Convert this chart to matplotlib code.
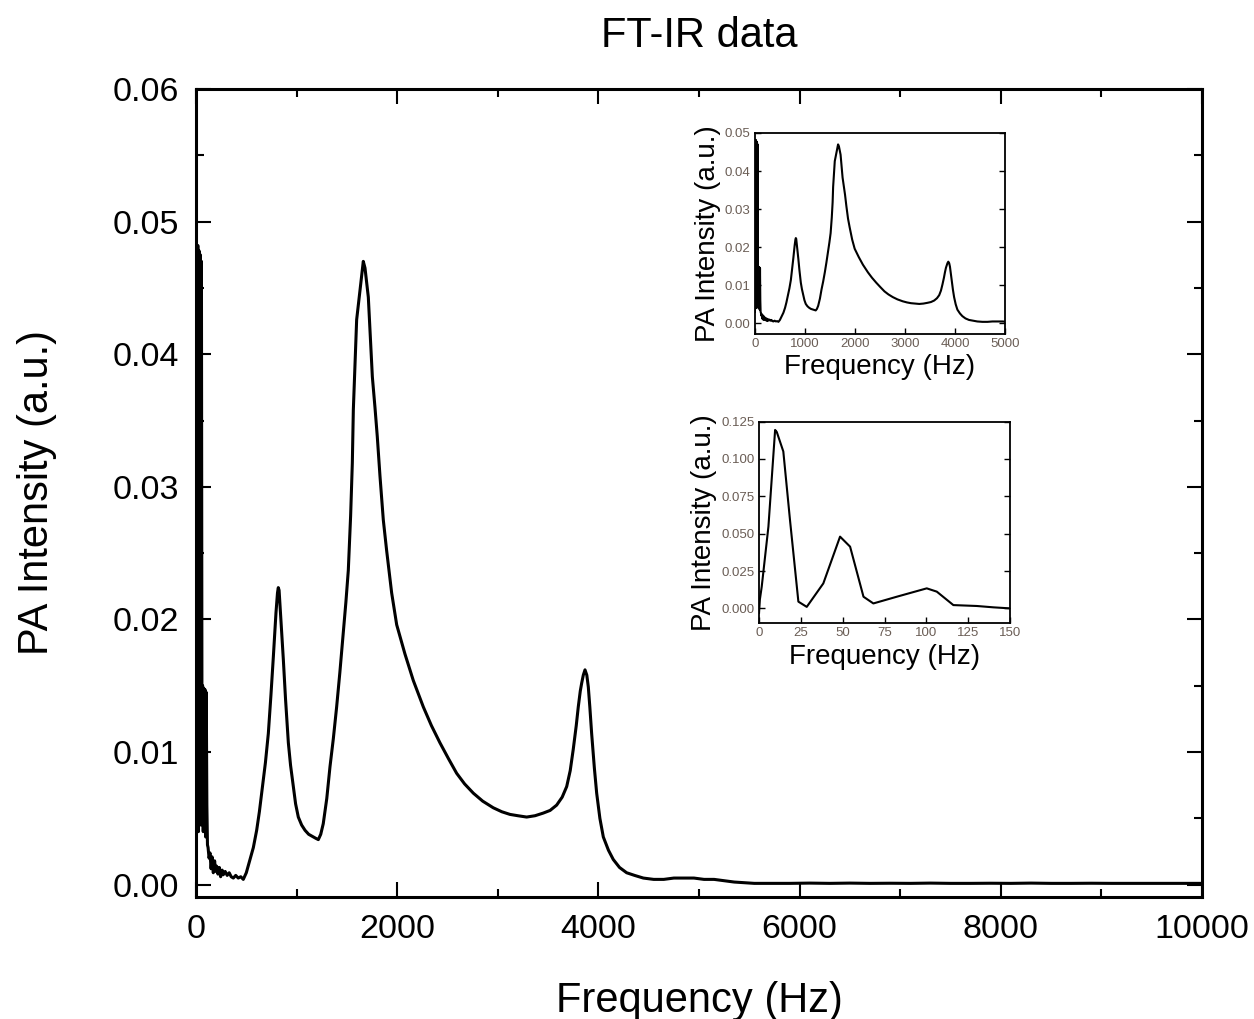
import matplotlib
matplotlib.use("Agg")
import matplotlib.pyplot as plt
from matplotlib.ticker import MultipleLocator, FormatStrFormatter

plt.rcParams['font.family'] = ['Liberation Sans', 'DejaVu Sans']

# main spectrum (Hz, a.u.)
freq = [0, 5, 12, 18, 24, 30, 36, 42, 48, 54,
        60, 66, 72, 78, 84, 90, 96, 102, 108, 114,
        120, 130, 139, 150, 160, 172, 185, 195, 205, 218,
        232, 245, 260, 271, 290, 310, 330, 350, 371, 395,
        420, 445, 470, 500, 537, 570, 603, 630, 653, 690,
        719, 745, 769, 795, 810, 818, 826, 840, 855, 868,
        890, 918, 940, 967, 990, 1017, 1050, 1084, 1120, 1166,
        1190, 1216, 1240, 1265, 1300, 1332, 1365, 1398, 1430, 1464,
        1490, 1514, 1537, 1554, 1564, 1580, 1597, 1630, 1650, 1663,
        1680, 1713, 1730, 1753, 1779, 1802, 1829, 1862, 1895, 1945,
        1995, 2077, 2160, 2260, 2340, 2425, 2510, 2591, 2670, 2757,
        2850, 2955, 3040, 3121, 3200, 3287, 3370, 3452, 3520, 3585,
        3640, 3685, 3720, 3750, 3780, 3800, 3820, 3834, 3850, 3867,
        3885, 3900, 3915, 3933, 3960, 3983, 4015, 4049, 4100, 4148,
        4210, 4281, 4360, 4447, 4550, 4650, 4750, 4850, 4950, 5050,
        5150, 5250, 5350, 5450, 5550, 5700, 5900, 6100, 6300, 6500,
        6700, 6900, 7100, 7300, 7500, 7700, 7900, 8100, 8300, 8500,
        8700, 8900, 9100, 9300, 9500, 9700, 9900, 10000]
inten = [0.0030, 0.0480, 0.0050, 0.0482, 0.0040, 0.0478, 0.0060, 0.0475, 0.0045, 0.0470,
         0.0070, 0.0150, 0.0040, 0.0148, 0.0050, 0.0147, 0.0036, 0.0145, 0.0060, 0.0030,
         0.0028, 0.0020, 0.0024, 0.0012, 0.0021, 0.0009, 0.0018, 0.0010, 0.0014, 0.0008,
         0.0013, 0.0006, 0.0011, 0.00075, 0.0010, 0.0007, 0.0009, 0.0006, 0.0005, 0.0007,
         0.0005, 0.0006, 0.0004, 0.0009, 0.0019, 0.0028, 0.0041, 0.0055, 0.0069, 0.0092,
         0.0114, 0.0143, 0.0172, 0.0205, 0.0220, 0.0224, 0.0222, 0.0205, 0.0188, 0.0170,
         0.0140, 0.0107, 0.0090, 0.0074, 0.0061, 0.0051, 0.0045, 0.0041, 0.0038, 0.0036,
         0.0035, 0.0034, 0.0038, 0.0046, 0.0065, 0.0089, 0.0110, 0.0134, 0.0160, 0.0190,
         0.0213, 0.0237, 0.0278, 0.0318, 0.0358, 0.0391, 0.0426, 0.0448, 0.0462, 0.0470,
         0.0465, 0.0443, 0.0418, 0.0383, 0.0360, 0.0338, 0.0308, 0.0275, 0.0252, 0.0220,
         0.0196, 0.0174, 0.0154, 0.0134, 0.0120, 0.0107, 0.0095, 0.0084, 0.0076, 0.0069,
         0.0063, 0.0058, 0.0055, 0.0053, 0.0052, 0.0051, 0.0052, 0.0054, 0.0056, 0.0060,
         0.0066, 0.0074, 0.0086, 0.0102, 0.0120, 0.0134, 0.0146, 0.0152, 0.0158, 0.0162,
         0.0158, 0.0149, 0.0134, 0.0114, 0.0088, 0.0069, 0.0050, 0.0036, 0.0026, 0.0019,
         0.0013, 0.0009, 0.0007, 0.0005, 0.0004, 0.0004, 0.0005, 0.0005, 0.0005, 0.0004,
         0.0004, 0.0003, 0.0002, 0.00015, 0.0001, 0.0001, 0.0001, 0.00012, 0.0001, 0.00012,
         0.0001, 0.00011, 0.0001, 0.00012, 0.0001, 0.0001, 0.00011, 0.0001, 0.00012, 0.0001,
         0.0001, 0.00011, 0.0001, 0.0001, 0.0001, 0.0001, 0.0001, 0.0001]

# low-frequency zoom (lower inset)
freq_low = [0, 0.5, 1.6, 5.6, 9.6, 10.6, 14.5, 18.5, 23.5, 28.5, 38.4, 48.4,
            54.4, 62.4, 68.3, 82.3, 100.2, 106.2, 116.1, 130.1, 140, 150]
inten_low = [-0.003, 0.006, 0.0145, 0.0547, 0.1194, 0.118, 0.105, 0.059, 0.0045,
             0.001, 0.0167, 0.048, 0.0413, 0.0078, 0.0033, 0.0078, 0.0134, 0.0112,
             0.0022, 0.0016, 0.0007, 0.0]

fig = plt.figure(figsize=(12.54, 10.19), dpi=100)
ax = fig.add_axes([0.1563, 0.1197, 0.8022, 0.793])
ax.plot(freq, inten, color='black', lw=2.2)
ax.set_xlim(0, 10000)
ax.set_ylim(-0.00093, 0.06)
ax.xaxis.set_major_locator(MultipleLocator(2000))
ax.xaxis.set_minor_locator(MultipleLocator(1000))
ax.yaxis.set_major_locator(MultipleLocator(0.01))
ax.yaxis.set_minor_locator(MultipleLocator(0.005))
ax.yaxis.set_major_formatter(FormatStrFormatter('%.2f'))
ax.tick_params(which='both', direction='in', top=True, right=True, width=1.5)
ax.tick_params(which='major', length=11, labelsize=24.5, pad=12)
ax.tick_params(which='minor', length=6)
for s in ax.spines.values():
    s.set_linewidth(2.2)
ax.set_xlabel('Frequency (Hz)', fontsize=30, labelpad=26)
ax.set_ylabel('PA Intensity (a.u.)', fontsize=30, labelpad=40)
ax.set_title('FT-IR data', fontsize=30, pad=30)

# upper inset: 0-5000 Hz
ins1 = fig.add_axes([0.602, 0.6722, 0.1994, 0.1973])
ins1.plot(freq, inten, color='black', lw=1.5)
ins1.set_xlim(0, 5000)
ins1.set_ylim(-0.0028, 0.05)
ins1.xaxis.set_major_locator(MultipleLocator(1000))
ins1.yaxis.set_major_locator(MultipleLocator(0.01))
ins1.yaxis.set_major_formatter(FormatStrFormatter('%.2f'))

# lower inset: 0-150 Hz
ins2 = fig.add_axes([0.6053, 0.3883, 0.2002, 0.198])
ins2.plot(freq_low, inten_low, color='black', lw=1.5)
ins2.set_xlim(0, 150)
ins2.set_ylim(-0.01, 0.125)
ins2.xaxis.set_major_locator(MultipleLocator(25))
ins2.yaxis.set_major_locator(MultipleLocator(0.025))
ins2.yaxis.set_major_formatter(FormatStrFormatter('%.3f'))

for a in (ins1, ins2):
    a.tick_params(direction='in', right=True, length=4, width=1,
                  labelsize=9.5, labelcolor='#6a5d55', pad=3)
    for s in a.spines.values():
        s.set_linewidth(1.3)
    a.set_xlabel('Frequency (Hz)', fontsize=20, labelpad=3)
    a.set_ylabel('PA Intensity (a.u.)', fontsize=20, labelpad=3)

fig.savefig('out.png', dpi=100)
